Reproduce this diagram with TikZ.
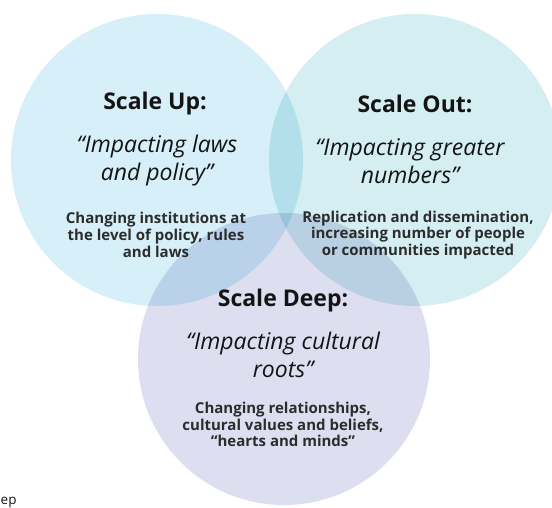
\documentclass[tikz,border=0pt]{standalone}
\usepackage{fontspec}
\setmainfont{Open Sans}
\usepackage{tikz}
\usetikzlibrary{positioning}

\definecolor{upblue}{RGB}{214,239,248}
\definecolor{outblue}{RGB}{213,238,241}
\definecolor{deeplilac}{RGB}{221,223,240}
\definecolor{inktext}{RGB}{20,20,20}

\tikzset{
  ring/.style={circle,minimum size=292pt,inner sep=0pt},
  head/.style={font=\fontsize{23}{26}\selectfont\bfseries,text=inktext},
  motto/.style={font=\fontsize{23}{28}\selectfont\itshape,align=center,text=inktext},
  desc/.style={font=\fontsize{15}{16.7}\selectfont\bfseries,align=center,text=inktext!90},
}

\begin{document}
\begin{tikzpicture}[x=1pt,y=-1pt]
   \useasboundingbox (0,0) rectangle (552,508);

   \begin{scope}[blend group=multiply]
     \node[ring,fill=upblue] (up) at (157,160) {};
     \node[ring,fill=outblue] (out) at (415,160) {};
     \node[ring,fill=deeplilac] (deep) at (284,359) {};
   \end{scope}

   % scale up
   \node[head] (uptitle) at (155,104) {Scale Up:};
   \node[motto] (upquote) at (157,161) {“Impacting laws\\and policy”};
   \node[desc] (uptext) at (156,235) {Changing institutions at\\the level of policy, rules\\and laws};

   % scale out
   \node[head] (outtitle) at (415,104) {Scale Out:};
   \node[motto] (outquote) at (410,161) {“Impacting greater\\numbers”};
   \node[desc] (outtext) at (418,235) {Replication and dissemination,\\increasing number of people\\or communities impacted};

   % scale deep
   \node[head] (deeptitle) at (283,301) {Scale Deep:};
   \node[motto] (deepquote) at (283,355) {“Impacting cultural\\roots”};
   \node[desc] (deeptext) at (283,424.5) {Changing relationships,\\cultural values and beliefs,\\“hearts and minds”};

   \node[font=\fontsize{13.5}{16}\selectfont,anchor=base west,inner sep=0pt,text=inktext] (cut) at (0.5,504) {ep};
\end{tikzpicture}
\end{document}
